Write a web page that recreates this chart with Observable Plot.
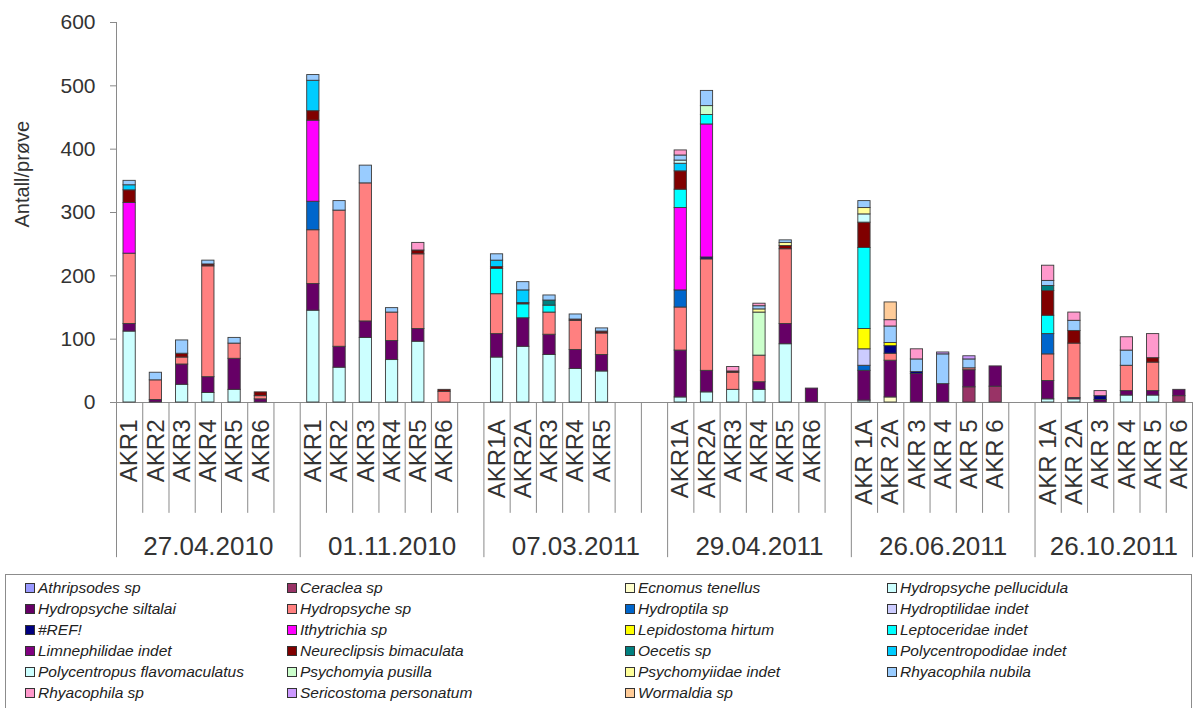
<!DOCTYPE html>
<html><head><meta charset="utf-8">
<script src="https://cdn.jsdelivr.net/npm/d3@7"></script>
<script src="https://cdn.jsdelivr.net/npm/@observablehq/plot@0.6"></script>
<style>
body{margin:0;background:#fff;font-family:"Liberation Sans",Arial,sans-serif;}
#wrap{position:relative;width:1197px;height:708px;overflow:hidden;background:#fff;}
#chart{position:absolute;left:0;top:0;}
#legend{position:absolute;left:5px;top:574px;width:1187px;height:140px;border:1px solid #8c8c8c;box-sizing:border-box;}
.item{position:absolute;font-style:italic;font-size:15.5px;color:#222;white-space:nowrap;line-height:16px;height:16px;}
.sw{display:inline-block;width:8px;height:8px;border:1px solid #333;margin-right:3px;vertical-align:0px;}
</style></head>
<body><div id="wrap"><div id="chart"></div><div id="legend"></div></div>
<script>
// ---- data ----
const dates = ["27.04.2010","01.11.2010","07.03.2011","29.04.2011","26.06.2011","26.10.2011"];
const sites2010a = ["AKR1","AKR2","AKR3","AKR4","AKR5","AKR6",""];
const sites2010b = ["AKR1","AKR2","AKR3","AKR4","AKR5","AKR6",""];
const sites2011a = ["AKR1A","AKR2A","AKR3","AKR4","AKR5","",""];
const sites2011b = ["AKR1A","AKR2A","AKR3","AKR4","AKR5","AKR6",""];
const sites2011c = ["AKR 1A","AKR 2A","AKR 3","AKR 4","AKR 5","AKR 6",""];
const sites2011d = ["AKR 1A","AKR 2A","AKR 3","AKR 4","AKR 5","AKR 6"];
const siteGroups = [sites2010a, sites2010b, sites2011a, sites2011b, sites2011c, sites2011d];

const yTicks = [0,100,200,300,400,500,600];
const yTitle = "Antall/prøve";

// values per species, one entry per slot (7+7+7+7+7+6)
const athripsodes = [0,0,0,0,0,0,0, 0,0,0,0,0,0,0, 0,0,0,0,0,0,0, 0,0,0,0,0,0,0, 0,0,0,0,0,0,0, 0,0,0,0,0,0];
const ceraclea = [0,0,0,0,0,0,0, 0,0,0,0,0,0,0, 0,0,0,0,0,0,0, 0,0,0,0,0,0,0, 0,0,0,0,24,25,0, 0,0,0,0,0,10];
const ecnomus = [0,0,0,0,0,0,0, 0,0,0,0,0,0,0, 0,0,0,0,0,0,0, 0,0,0,0,0,0,0, 0,8,0,0,0,0,0, 0,0,0,0,0,0];
const pellucidula = [112,0,28,15,20,0,0, 145,55,102,67,96,0,0, 71,88,75,53,49,0,0, 8,16,20,20,92,0,0, 3,0,0,0,0,0,0, 5,5,0,11,11,0];
const siltalai = [12,4,32,25,49,5,0, 42,33,26,30,20,0,0, 37,45,32,30,26,0,0, 74,34,0,12,32,22,0, 47,58,45,29,27,32,0, 29,2,4,7,7,10];
const hydropsycheSp = [111,31,11,175,24,5,0, 85,215,218,45,118,17,0, 63,0,35,46,34,0,0, 68,176,27,42,118,0,0, 0,11,0,0,3,0,0, 42,86,0,40,45,0];
const hydroptila = [0,0,0,0,0,0,0, 45,0,0,0,0,0,0, 0,0,0,0,0,0,0, 27,0,0,0,0,0,0, 8,0,0,0,0,0,0, 32,0,0,0,0,0];
const hydroptilidae = [0,0,0,0,0,0,0, 0,0,0,0,0,0,0, 0,0,0,0,0,0,0, 0,0,0,0,0,0,0, 26,0,0,0,0,0,0, 0,0,0,0,0,0];
const refErr = [0,0,0,0,0,0,0, 0,0,0,0,0,0,0, 0,0,0,0,0,0,0, 0,3,0,0,0,0,0, 0,12,3,0,0,0,0, 0,0,6,0,0,0];
const ithytrichia = [80,0,0,0,0,0,0, 128,0,0,0,0,0,0, 0,0,0,0,0,0,0, 130,210,0,0,0,0,0, 0,0,0,0,0,0,0, 0,0,0,0,0,0];
const lepidostoma = [0,0,0,0,0,0,0, 0,0,0,0,0,0,0, 0,0,0,0,0,0,0, 0,0,0,0,0,0,0, 32,5,0,0,0,0,0, 0,0,0,0,0,0];
const leptoceridae = [0,0,0,0,0,0,0, 0,0,0,0,0,0,0, 40,22,11,0,0,0,0, 29,15,0,0,0,0,0, 128,0,0,0,0,0,0, 29,0,0,0,0,0];
const limnephilidae = [0,0,0,0,0,0,0, 0,0,0,0,0,0,0, 0,0,0,0,0,0,0, 0,0,0,0,0,0,0, 0,0,0,0,0,0,0, 0,0,0,0,0,0];
const neureclipsis = [20,0,6,3,0,6,0, 15,0,0,0,6,3,0, 3,2,0,2,3,0,0, 29,0,2,0,5,0,0, 40,0,0,0,0,0,0, 39,20,0,0,7,0];
const oecetis = [0,0,0,0,0,0,0, 0,0,0,0,0,0,0, 0,0,8,0,0,0,0, 0,0,0,0,0,0,0, 0,0,0,0,0,0,0, 8,0,0,0,0,0];
const polycentropodidae = [8,0,0,0,0,0,0, 48,0,0,0,0,0,0, 10,20,0,0,0,0,0, 12,0,0,0,0,0,0, 0,0,0,0,0,0,0, 0,0,0,0,0,0];
const polycentropus = [0,0,0,0,0,0,0, 0,0,0,0,0,0,0, 0,0,0,0,0,0,0, 5,0,0,0,0,0,0, 13,0,0,0,0,0,0, 0,0,0,0,0,0];
const psychomyia = [0,0,0,0,0,0,0, 0,0,0,0,0,0,0, 0,0,0,0,0,0,0, 0,14,0,68,0,0,0, 0,0,0,0,0,0,0, 0,0,0,0,0,0];
const psychomyiidae = [0,0,0,0,0,0,0, 0,0,0,0,0,0,0, 0,0,0,0,0,0,0, 0,0,0,5,5,0,0, 10,0,0,0,0,0,0, 0,0,0,0,0,0];
const rhyacophilaNubila = [7,12,21,6,9,0,0, 9,15,28,7,0,0,0, 10,13,8,8,5,0,0, 8,24,0,5,4,0,0, 11,26,20,47,14,0,0, 8,16,0,24,0,0];
const rhyacophilaSp = [0,0,0,0,0,0,0, 0,0,0,0,12,0,0, 0,0,0,0,0,0,0, 8,0,7,4,0,0,0, 0,10,16,0,0,0,0, 24,13,8,21,38,0];
const sericostoma = [0,0,0,0,0,0,0, 0,0,0,0,0,0,0, 0,0,0,0,0,0,0, 0,0,0,0,0,0,0, 0,0,0,3,5,0,0, 0,0,0,0,0,0];
const wormaldia = [0,0,0,0,0,0,0, 0,0,0,0,0,0,0, 0,0,0,0,0,0,0, 0,0,0,0,0,0,0, 0,28,0,0,0,0,0, 0,0,0,0,0,0];

const speciesNames = ["Athripsodes sp","Ceraclea sp","Ecnomus tenellus","Hydropsyche pellucidula",
  "Hydropsyche siltalai","Hydropsyche sp","Hydroptila sp","Hydroptilidae indet",
  "#REF!","Ithytrichia sp","Lepidostoma hirtum","Leptoceridae indet",
  "Limnephilidae indet","Neureclipsis bimaculata","Oecetis sp","Polycentropodidae indet",
  "Polycentropus flavomaculatus","Psychomyia pusilla","Psychomyiidae indet","Rhyacophila nubila",
  "Rhyacophila sp","Sericostoma personatum","Wormaldia sp"];
const speciesValues = [athripsodes, ceraclea, ecnomus, pellucidula, siltalai, hydropsycheSp, hydroptila, hydroptilidae,
  refErr, ithytrichia, lepidostoma, leptoceridae, limnephilidae, neureclipsis, oecetis, polycentropodidae,
  polycentropus, psychomyia, psychomyiidae, rhyacophilaNubila, rhyacophilaSp, sericostoma, wormaldia];

// ---- styles ----
const palette = ["#9999FF","#993366","#FFFFCC","#CCFFFF","#660066","#FF8080","#0066CC","#CCCCFF",
  "#000080","#FF00FF","#FFFF00","#00FFFF","#800080","#800000","#008080","#00CCFF",
  "#CCFFFF","#CCFFCC","#FFFF99","#99CCFF","#FF99CC","#CC99FF","#FFCC99"];

// ---- build table ----
const slots = [];
siteGroups.forEach((g, gi) => g.forEach((s, si) => slots.push({key: gi + "|" + si, label: s, group: gi, start: si === 0})));
const rows = [];
speciesNames.forEach((sp, k) => speciesValues[k].forEach((v, i) => { if (v > 0) rows.push({key: slots[i].key, species: sp, value: v}); }));

let offset = 0;
const dateRows = dates.map((d, gi) => {
  const n = siteGroups[gi].length;
  const r = {key: slots[offset + Math.floor((n - 1) / 2)].key, text: d, odd: n % 2 === 1};
  offset += n;
  return r;
});

const W = 1197, H = 572, ML = 116, MR = 5, MT = 22, MB = H - 402;
const step = (W - ML - MR) / slots.length;
const sepShort = -175, sepLong = -245;
const font = "Liberation Sans, Arial, sans-serif";

const chart = Plot.plot({
  width: W, height: H, marginLeft: ML, marginRight: MR, marginTop: MT, marginBottom: MB,
  style: {fontFamily: font, color: "#333", background: "white", overflow: "visible"},
  x: {type: "band", domain: slots.map(d => d.key), padding: 0, round: false, axis: null},
  y: {domain: [0, 600], axis: null},
  color: {domain: speciesNames, range: palette},
  marks: [
    Plot.ruleY([0], {stroke: "#8a8a8a"}),
    Plot.ruleX(slots.filter(d => !d.start), {x: "key", y1: 0, y2: sepShort, dx: -step / 2, stroke: "#8a8a8a"}),
    Plot.ruleX(slots.filter(d => d.start), {x: "key", y1: 0, y2: sepLong, dx: -step / 2, stroke: "#8a8a8a"}),
    Plot.ruleX(slots.slice(-1), {x: "key", y1: 0, y2: sepLong, dx: step / 2, stroke: "#8a8a8a"}),
    Plot.ruleX(slots.slice(0, 1), {x: "key", y1: 0, y2: yTicks[yTicks.length - 1], dx: -step / 2, stroke: "#8a8a8a"}),
    Plot.barY(rows, Plot.stackY({x: "key", y: "value", fill: "species", stroke: "#3a3a3a", strokeWidth: 0.9, insetLeft: 7, insetRight: 7})),
    Plot.axisY({ticks: yTicks, tickSize: 6, tickPadding: 15, fontSize: 21, label: null, stroke: "#8a8a8a"}),
    Plot.text([yTitle], {frameAnchor: "left", dx: -94, dy: 15, rotate: -90, fontSize: 20, fill: "#333"}),
    Plot.text(slots.filter(d => d.label), {x: "key", y: 0, text: "label", rotate: -90, textAnchor: "end", dy: 17, fontSize: 24, fill: "#333"}),
    Plot.text(dateRows.filter(d => d.odd), {x: "key", y: 0, text: "text", dy: 144, fontSize: 26, fill: "#333"}),
    Plot.text(dateRows.filter(d => !d.odd), {x: "key", y: 0, text: "text", dy: 144, dx: step / 2, fontSize: 26, fill: "#333"})
  ]
});
document.getElementById("chart").appendChild(chart);

// ---- legend ----
const legend = document.getElementById("legend");
const colX = [25, 287, 625, 887];
const rowY = [588, 609, 630, 651, 672, 693];
speciesNames.forEach((sp, i) => {
  const el = document.createElement("div");
  el.className = "item";
  el.style.left = (colX[i % 4] - 6) + "px";
  el.style.top = (rowY[Math.floor(i / 4)] - 575 - 8) + "px";
  const sw = document.createElement("span");
  sw.className = "sw";
  sw.style.background = palette[i];
  el.appendChild(sw);
  el.appendChild(document.createTextNode(sp));
  legend.appendChild(el);
});
</script>
</body></html>
